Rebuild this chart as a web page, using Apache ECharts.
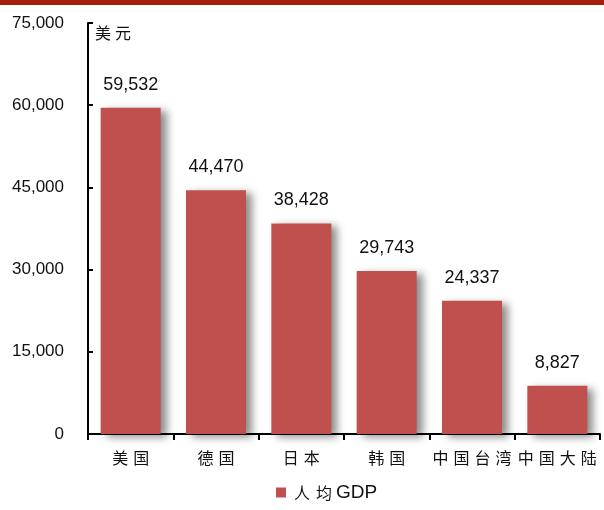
<!DOCTYPE html>
<html>
<head>
<meta charset="utf-8">
<script src="https://cdn.jsdelivr.net/npm/echarts@6/dist/echarts.min.js"></script>
<style>
  html, body { margin: 0; padding: 0; background: #fff; }
  #chart { width: 604px; height: 510px; }
</style>
</head>
<body>
<div id="chart"></div>
<script>
// 人均GDP（美元）
const categories = ['美国', '德国', '日本', '韩国', '中国台湾', '中国大陆'];
const gdpPerCapita = [59532, 44470, 38428, 29743, 24337, 8827];
const seriesName = '人均GDP';
const unitLabel = '美元';

const chart = echarts.init(document.getElementById('chart'));
const latin = 'Liberation Sans, Arial, sans-serif';
const cjk = '"Noto Sans CJK SC", sans-serif';

// Spread CJK glyphs apart: each character is its own rich-text run with side padding
const spaced = (s, style) => s.replace(/([A-Za-z]+)/g, '{g|$1}')
  .replace(/[\u4e00-\u9fff]/g, ch => '{' + style + '|' + ch + '}');

chart.setOption({
  animation: false,
  backgroundColor: '#ffffff',
  grid: { left: 88, right: 4, top: 23, bottom: 76, containLabel: false, outerBoundsMode: 'none' },
  legend: {
    data: [seriesName],
    bottom: 3,
    left: 271,
    icon: 'rect',
    itemWidth: 10,
    itemHeight: 10,
    itemGap: 8,
    formatter: name => spaced(name, 'c'),
    textStyle: {
      fontFamily: cjk, fontSize: 16, color: '#111',
      rich: {
        c: { fontFamily: cjk, fontSize: 16, color: '#111', padding: [0, 3, 0, 3] },
        g: { fontFamily: latin, fontSize: 19, color: '#111', padding: [0, 0, 0, 1] }
      }
    }
  },
  graphic: [
    { type: 'rect', left: 0, top: 0, shape: { width: 604, height: 5 }, style: { fill: '#A41F0B' } },
    {
      type: 'text', left: 95, top: 25,
      style: {
        text: spaced(unitLabel, 'c'),
        rich: { c: { fontFamily: cjk, fontSize: 16, fill: '#111', padding: [0, 2, 0, 2] } }
      }
    }
  ],
  xAxis: {
    type: 'category',
    data: categories,
    axisLine: { lineStyle: { color: '#000', width: 2 } },
    axisTick: { show: true, inside: false, length: 6, lineStyle: { color: '#000', width: 2 } },
    axisLabel: {
      interval: 0,
      margin: 16,
      formatter: v => spaced(v, 'c'),
      rich: { c: { fontFamily: cjk, fontSize: 16, color: '#111', padding: [0, 2.5, 0, 2.5] } }
    }
  },
  yAxis: {
    type: 'value',
    min: 0,
    max: 75000,
    interval: 15000,
    splitLine: { show: false },
    axisLine: { show: true, lineStyle: { color: '#000', width: 2 } },
    axisTick: { show: true, inside: true, length: 5, lineStyle: { color: '#000', width: 2 } },
    axisLabel: {
      margin: 24,
      fontFamily: latin,
      fontSize: 17,
      color: '#111',
      formatter: v => v.toLocaleString('en-US')
    }
  },
  series: [{
    name: seriesName,
    type: 'bar',
    data: gdpPerCapita,
    barWidth: 60,
    itemStyle: {
      color: '#C0504D',
      shadowColor: 'rgba(0,0,0,0.45)',
      shadowBlur: 8,
      shadowOffsetX: 6,
      shadowOffsetY: 3
    },
    label: {
      show: true,
      position: 'top',
      distance: 14,
      fontFamily: latin,
      fontSize: 18,
      color: '#111',
      formatter: p => p.value.toLocaleString('en-US')
    }
  }]
});
</script>
</body>
</html>
